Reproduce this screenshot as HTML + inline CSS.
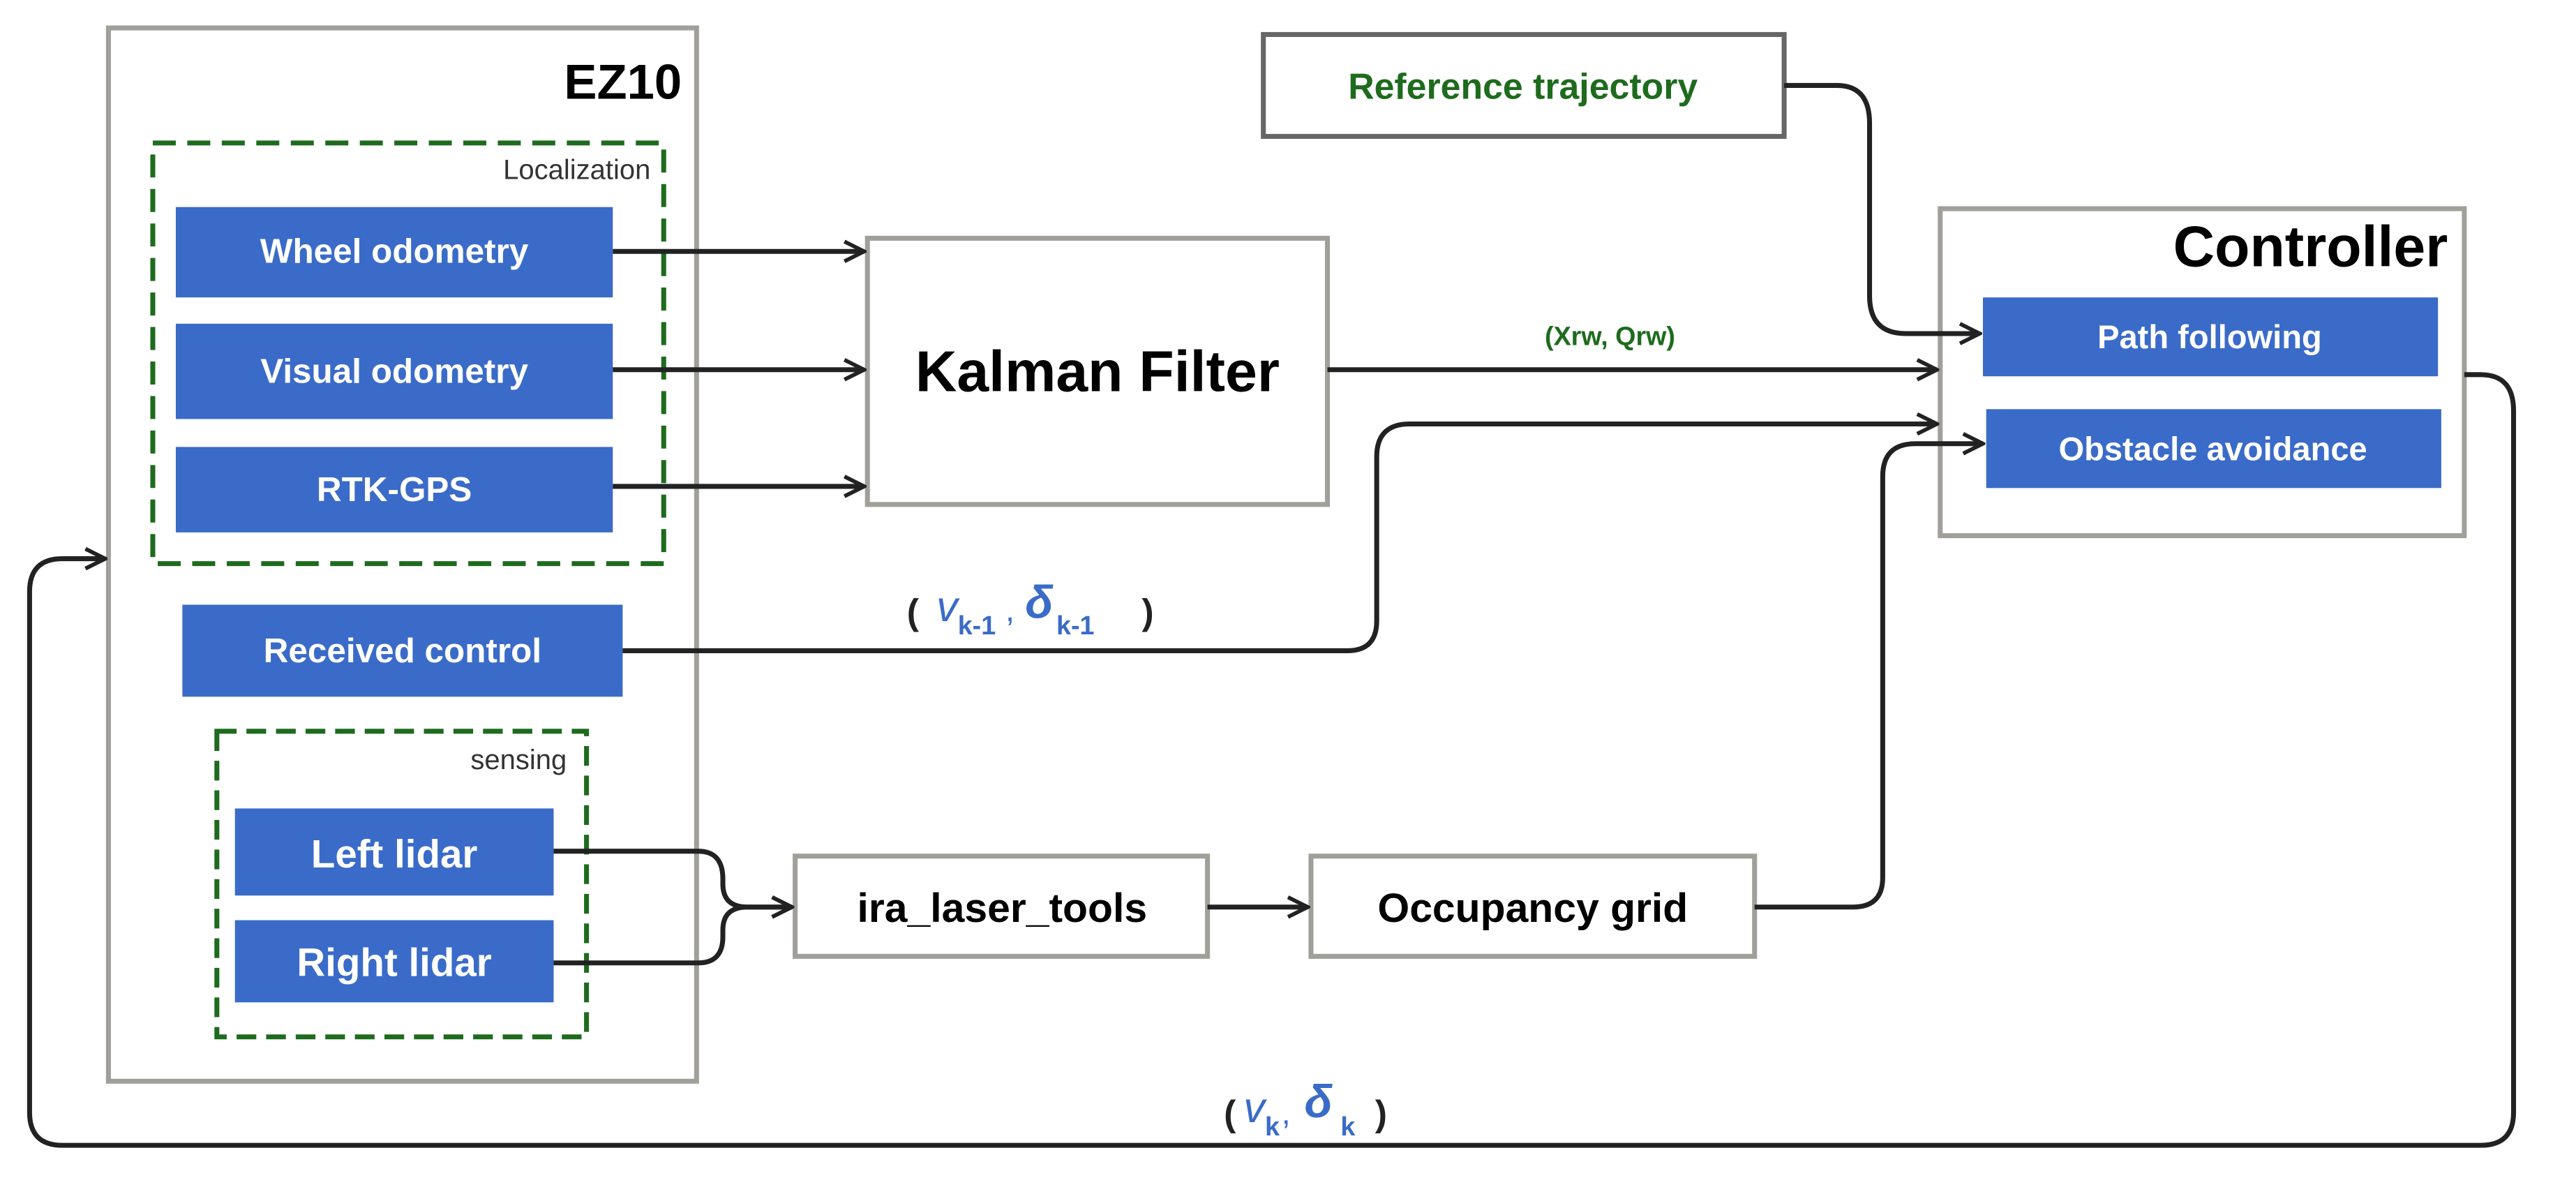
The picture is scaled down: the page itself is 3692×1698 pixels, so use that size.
<!DOCTYPE html>
<html><head><meta charset="utf-8"><style>
html,body{margin:0;padding:0;background:#fff;}
svg{display:block;}
text{font-family:"Liberation Sans",sans-serif;}
</style></head><body>
<svg width="3692" height="1698" viewBox="0 0 1568 721.15" xmlns="http://www.w3.org/2000/svg">
<defs>
<marker id="ar" viewBox="0 0 10 10" refX="9" refY="5" markerWidth="5" markerHeight="5" orient="auto" markerUnits="strokeWidth">
<path d="M1,1 L9,5 L1,9" fill="none" stroke="#222" stroke-width="1.6"/>
</marker>
</defs>
<rect width="1568" height="721.15" fill="#fff"/>
<rect x="66" y="17" width="358" height="641" fill="none" stroke="#a09f9a" stroke-width="3"/>
<text x="415" y="60" text-anchor="end" font-size="30" font-weight="bold">EZ10</text>
<rect x="93" y="87" width="311" height="256" fill="none" stroke="#1e6b1e" stroke-width="3" stroke-dasharray="14,7"/>
<text x="396" y="109" text-anchor="end" font-size="17" fill="#333">Localization</text>
<g fill="#3a6bc8">
<rect x="107" y="126" width="266" height="55"/>
<rect x="107" y="197" width="266" height="58"/>
<rect x="107" y="272" width="266" height="52"/>
<rect x="111" y="368" width="268" height="56"/>
<rect x="143" y="492" width="194" height="53"/>
<rect x="143" y="560" width="194" height="50"/>
<rect x="1207" y="181" width="277" height="48"/>
<rect x="1209" y="249" width="277" height="48"/>
</g>
<g fill="#fff" font-weight="bold" text-anchor="middle">
<text x="240" y="160" font-size="21">Wheel odometry</text>
<text x="240" y="233" font-size="21">Visual odometry</text>
<text x="240" y="305" font-size="21">RTK-GPS</text>
<text x="245" y="403" font-size="21">Received control</text>
<text x="240" y="528" font-size="24">Left lidar</text>
<text x="240" y="594" font-size="24">Right lidar</text>
<text x="1345" y="212" font-size="20">Path following</text>
<text x="1347" y="280" font-size="20">Obstacle avoidance</text>
</g>
<rect x="132" y="445" width="225" height="186" fill="none" stroke="#1e6b1e" stroke-width="3" stroke-dasharray="12,6"/>
<text x="345" y="468" text-anchor="end" font-size="17" fill="#333">sensing</text>
<rect x="528" y="145" width="280" height="162" fill="none" stroke="#a09f9a" stroke-width="3"/>
<text x="668" y="238" text-anchor="middle" font-size="35" font-weight="bold">Kalman Filter</text>
<rect x="769" y="21" width="317" height="62" fill="none" stroke="#666" stroke-width="3"/>
<text x="927" y="60" text-anchor="middle" font-size="22" font-weight="bold" fill="#1e6b1e">Reference trajectory</text>
<rect x="1181" y="127" width="319" height="199" fill="none" stroke="#a09f9a" stroke-width="3"/>
<text x="1490" y="162" text-anchor="end" font-size="35" font-weight="bold">Controller</text>
<rect x="484" y="521" width="251" height="61" fill="none" stroke="#a09f9a" stroke-width="3"/>
<text x="610" y="561" text-anchor="middle" font-size="25" font-weight="bold">ira_laser_tools</text>
<rect x="798" y="521" width="270" height="61" fill="none" stroke="#a09f9a" stroke-width="3"/>
<text x="933" y="561" text-anchor="middle" font-size="25" font-weight="bold">Occupancy grid</text>
<g fill="none" stroke="#222" stroke-width="3" marker-end="url(#ar)">
<path d="M373,153 H526"/>
<path d="M373,225 H526"/>
<path d="M373,296 H526"/>
<path d="M808,225 H1179"/>
<path d="M1086,52 H1118 Q1138,52 1138,75 V180 Q1138,203 1160,203 H1205"/>
<path d="M379,396 H820 Q838,396 838,378 V278 Q838,258 858,258 H1179"/>
<path d="M337,518 H425 Q440,518 440,535 V538 Q440,552 455,552 H482"/>
<path d="M337,586 H425 Q440,586 440,570 V566 Q440,552 455,552 H482"/>
<path d="M735,552 H796"/>
<path d="M1068,552 H1128 Q1146,552 1146,534 V290 Q1146,270 1166,270 H1207"/>
<path d="M1500,228 H1510 Q1530,228 1530,250 V677 Q1530,697 1510,697 H38 Q18,697 18,677 V360 Q18,340 38,340 H64"/>
</g>
<text x="980" y="210" text-anchor="middle" font-size="16" font-weight="bold" fill="#1e6b1e">(Xrw, Qrw)</text>
<text x="552" y="380" font-size="22" font-weight="bold" fill="#222">(</text>
<text x="570" y="378" font-size="26" font-style="italic" fill="#3a6bc8" font-family="Liberation Serif">v</text>
<text x="583" y="386" font-size="16" font-weight="bold" fill="#3a6bc8">k-1</text>
<text x="612" y="378" font-size="20" fill="#3a6bc8">,</text>
<text x="624" y="376" font-size="28" font-weight="bold" font-style="italic" fill="#3a6bc8" font-family="Liberation Serif">δ</text>
<text x="643" y="386" font-size="16" font-weight="bold" fill="#3a6bc8">k-1</text>
<text x="695" y="380" font-size="22" font-weight="bold" fill="#222">)</text>
<text x="745" y="685" font-size="22" font-weight="bold" fill="#222">(</text>
<text x="757" y="683" font-size="26" font-style="italic" fill="#3a6bc8" font-family="Liberation Serif">v</text>
<text x="770" y="691" font-size="16" font-weight="bold" fill="#3a6bc8">k</text>
<text x="780" y="684" font-size="20" fill="#3a6bc8">,</text>
<text x="794" y="680" font-size="28" font-weight="bold" font-style="italic" fill="#3a6bc8" font-family="Liberation Serif">δ</text>
<text x="816" y="691" font-size="16" font-weight="bold" fill="#3a6bc8">k</text>
<text x="837" y="685" font-size="22" font-weight="bold" fill="#222">)</text>
</svg>
</body></html>
